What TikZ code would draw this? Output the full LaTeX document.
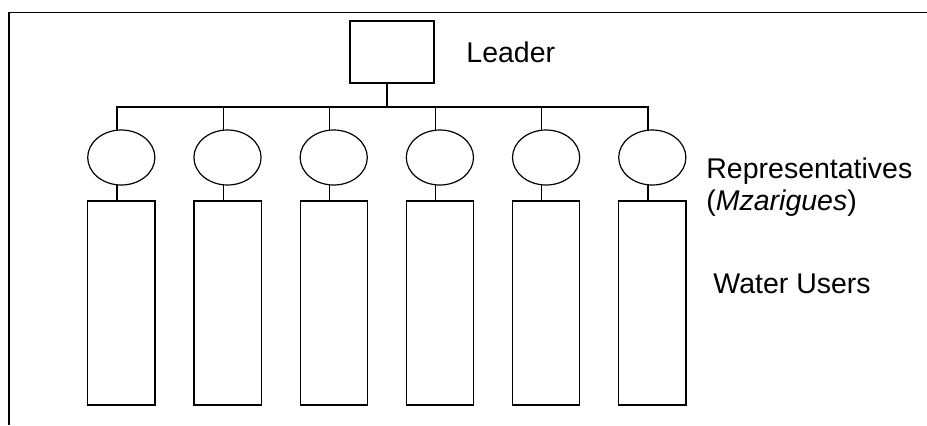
\documentclass[tikz,border=0pt]{standalone}
\usepackage{fontspec}
\setmainfont{Liberation Sans}
\usetikzlibrary{shapes.geometric, positioning}
\tikzstyle{leaderbox} = [rectangle, draw=black, line width=0.6pt, minimum width=42pt, minimum height=31pt, inner sep=0pt, outer sep=0pt]
\tikzstyle{rep} = [ellipse, draw=black, line width=0.6pt, minimum width=33.6pt, minimum height=27.5pt, inner sep=0pt, outer sep=0pt]
\tikzstyle{users} = [rectangle, draw=black, line width=0.6pt, minimum width=33.6pt, minimum height=102pt, inner sep=0pt, outer sep=0pt]
\tikzstyle{caption} = [inner sep=0pt, font=\fontsize{14.25}{16}\selectfont, align=left]
\tikzstyle{tie} = [draw=black, line width=0.6pt]
\begin{document}
\begin{tikzpicture}[x=0.5pt, y=-0.5pt]

    \useasboundingbox (0,0) rectangle (927,425);

    % Open page frame (top and left edges only)
    \draw [line width=0.65pt] (9,425) -- (9,12.5) -- (927,12.5);

    \node (leader) [leaderbox] at (392,52) {};

    % Representatives
    \node (e1) [rep] at (121.3,157.5) {};
    \node (e2) [rep, right=19.5pt of e1] {};
    \node (e3) [rep, right=19.5pt of e2] {};
    \node (e4) [rep, right=19.5pt of e3] {};
    \node (e5) [rep, right=19.5pt of e4] {};
    \node (e6) [rep, right=19.5pt of e5] {};

    % Water users
    \node (u1) [users, below=8pt of e1] {};
    \node (u2) [users, below=8pt of e2] {};
    \node (u3) [users, below=8pt of e3] {};
    \node (u4) [users, below=8pt of e4] {};
    \node (u5) [users, below=8pt of e5] {};
    \node (u6) [users, below=8pt of e6] {};

    \coordinate (bus) at (387,107);
    \draw [tie] ([xshift=-2.5pt]leader.south) -- (bus);

    \draw [tie] ([xshift=-2.2pt]e1.north) |- (bus);
    \draw [tie] ([xshift=-2.2pt]e2.north) |- (bus);
    \draw [tie] ([xshift=-2.2pt]e3.north) |- (bus);
    \draw [tie] ([xshift=-2.2pt]e4.north) |- (bus);
    \draw [tie] ([xshift=-2.2pt]e5.north) |- (bus);
    \draw [tie] ([xshift=-2.2pt]e6.north) |- (bus);

    \draw [tie] ([xshift=-2.2pt]e1.south) -- ([xshift=-2.2pt]u1.north);
    \draw [tie] ([xshift=-2.2pt]e2.south) -- ([xshift=-2.2pt]u2.north);
    \draw [tie] ([xshift=-2.2pt]e3.south) -- ([xshift=-2.2pt]u3.north);
    \draw [tie] ([xshift=-2.2pt]e4.south) -- ([xshift=-2.2pt]u4.north);
    \draw [tie] ([xshift=-2.2pt]e5.south) -- ([xshift=-2.2pt]u5.north);
    \draw [tie] ([xshift=-2.2pt]e6.south) -- ([xshift=-2.2pt]u6.north);

    % Level labels
    \node (leadertext) [caption, anchor=base west] at (466,62.3) {Leader};
    \node (reptext) [caption, anchor=base west] at (706,210) {Representatives\\(\textit{Mzarigues})};
    \node (userstext) [caption, anchor=base west] at (713,293.3) {Water Users};

\end{tikzpicture}
\end{document}
